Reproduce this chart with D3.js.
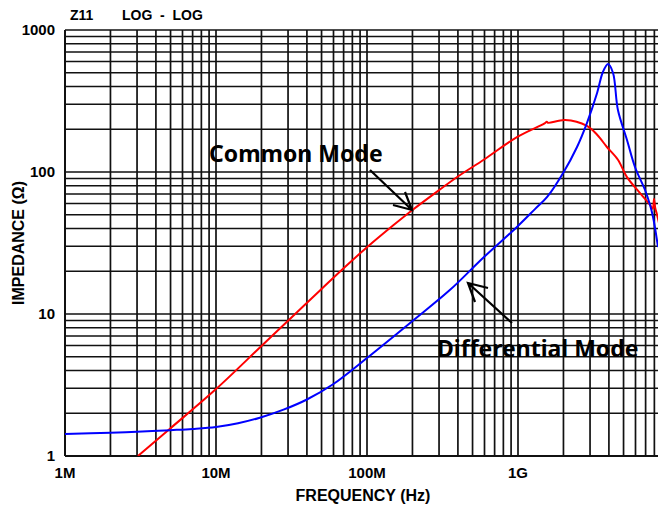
<!DOCTYPE html>
<html>
<head>
<meta charset="utf-8">
<script src="https://cdn.jsdelivr.net/npm/d3@7"></script>
<style>
  body { margin: 0; background: #fff; }
  svg { display: block; }
  .tick-label { font-family: "Liberation Sans", Arial, sans-serif; font-weight: bold; font-size: 15px; fill: #000; }
  .note { font-family: "Noto Sans", sans-serif; font-weight: bold; font-size: 23px; fill: #000; }
</style>
</head>
<body>
<div id="chart"></div>
<script>
"use strict";

// frequency (Hz) / impedance (ohm)
const commonFreq = [3.04e6, 5e6, 10e6, 20e6, 30e6, 50e6, 70e6, 100e6, 150e6, 200e6, 300e6, 400e6, 600e6, 984e6,
  1.5e9, 1.55e9, 1.58e9, 2.05e9, 2.86e9, 3.34e9, 3.88e9, 4.59e9, 5.27e9, 6.43e9, 7.49e9, 7.8e9, 7.96e9, 8.1e9, 8.34e9, 9e9];
const commonZ = [1, 1.57, 2.96, 5.96, 8.97, 15.0, 21.0, 29.5, 42.3, 54, 74.5, 93, 123, 176,
  220, 226, 222, 232, 211, 183, 150, 122, 92, 71, 58.6, 55, 64.5, 56, 49.8, 35];

const diffFreq = [1e6, 2e6, 3e6, 5e6, 7e6, 10e6, 14e6, 19.5e6, 28e6, 40e6, 59.6e6, 100e6, 202e6, 355e6, 586e6,
  984e6, 1.3e9, 1.56e9, 1.99e9, 2.46e9, 2.86e9, 3.34e9, 3.65e9, 3.95e9, 4.26e9, 4.59e9, 5.27e9, 5.96e9,
  6.94e9, 7.49e9, 7.84e9, 8.46e9];
const diffZ = [1.43, 1.46, 1.48, 1.52, 1.55, 1.6, 1.7, 1.86, 2.12, 2.5, 3.2, 4.9, 9.0, 14.8, 24.8,
  41, 55, 66.7, 98.4, 150, 221, 360, 506, 576, 498, 273, 168, 108,
  74.7, 58.6, 48.2, 29.6];

const xTickValues = [1e6, 1e7, 1e8, 1e9];
const xTickLabels = ["1M", "10M", "100M", "1G"];
const yTickValues = [1, 10, 100, 1000];
const yTickLabels = ["1", "10", "100", "1000"];

const W = 658, H = 509;
const plotL = 65, plotT = 30, plotB = 456, plotR = 669;

const x = d3.scaleLog().domain([1e6, 1e10]).range([plotL, plotR]);
const y = d3.scaleLog().domain([1, 1000]).range([plotB, plotT]);

const svg = d3.select("#chart").append("svg")
  .attr("width", W)
  .attr("height", H);

svg.append("defs").append("clipPath").attr("id", "plot")
  .append("rect").attr("x", plotL).attr("y", plotT).attr("width", W - plotL).attr("height", plotB - plotT);

// grid
const grid = svg.append("g").attr("stroke", "#111").attr("stroke-width", 1.7);
grid.selectAll(".vx").data(x.ticks()).enter().append("line")
  .attr("x1", d => x(d)).attr("x2", d => x(d))
  .attr("y1", plotT).attr("y2", plotB);
grid.selectAll(".hy").data(y.ticks()).enter().append("line")
  .attr("x1", plotL).attr("x2", W)
  .attr("y1", d => y(d)).attr("y2", d => y(d));
grid.append("line").attr("x1", plotL).attr("x2", plotL).attr("y1", plotT).attr("y2", plotB).attr("stroke-width", 2);
grid.append("line").attr("x1", plotL).attr("x2", W).attr("y1", plotB).attr("y2", plotB).attr("stroke-width", 2);

// curves
const line = d3.line()
  .x(d => x(d[0]))
  .y(d => y(d[1]))
  .curve(d3.curveCatmullRom.alpha(0.5));

const curves = svg.append("g").attr("clip-path", "url(#plot)").attr("fill", "none").attr("stroke-width", 2);
curves.append("path")
  .attr("d", line(d3.zip(commonFreq, commonZ)))
  .attr("stroke", "#ff0000");
curves.append("path")
  .attr("d", line(d3.zip(diffFreq, diffZ)))
  .attr("stroke", "#0000ff");

// tick labels
svg.selectAll(".xl").data(xTickValues).enter().append("text")
  .attr("class", "tick-label")
  .attr("x", d => x(d)).attr("y", 478)
  .attr("text-anchor", "middle")
  .text((d, i) => xTickLabels[i]);

svg.selectAll(".yl").data(yTickValues).enter().append("text")
  .attr("class", "tick-label")
  .attr("x", 55).attr("y", d => y(d) + 5)
  .attr("text-anchor", "end")
  .text((d, i) => yTickLabels[i]);

// titles
svg.append("text").attr("class", "tick-label")
  .attr("x", (plotL + plotR) / 2 - 4).attr("y", 501)
  .attr("text-anchor", "middle")
  .style("font-size", "16px")
  .text("FREQUENCY (Hz)");

svg.append("text").attr("class", "tick-label")
  .attr("transform", `translate(24, ${(plotT + plotB) / 2}) rotate(-90)`)
  .attr("text-anchor", "middle")
  .style("font-size", "16px")
  .text("IMPEDANCE (Ω)");

svg.append("text").attr("class", "tick-label")
  .attr("x", 70).attr("y", 20)
  .style("font-size", "14px")
  .text("Z11");
svg.append("text").attr("class", "tick-label")
  .attr("x", 122).attr("y", 20)
  .style("font-size", "14px")
  .style("white-space", "pre")
  .text("LOG  -  LOG");

// annotations
svg.append("text").attr("class", "note").attr("x", 209).attr("y", 162).text("Common Mode");
svg.append("text").attr("class", "note").attr("x", 437).attr("y", 357).text("Differential Mode");

const arrows = svg.append("g").attr("stroke", "#000").attr("stroke-width", 2.2).attr("fill", "none");
arrows.append("path").attr("d", "M370,170 L412,210 M393,205 L412,210 L405,192");
arrows.append("path").attr("d", "M512,323 L468,283 M488,288 L468,283 L475,302");
</script>
</body>
</html>
